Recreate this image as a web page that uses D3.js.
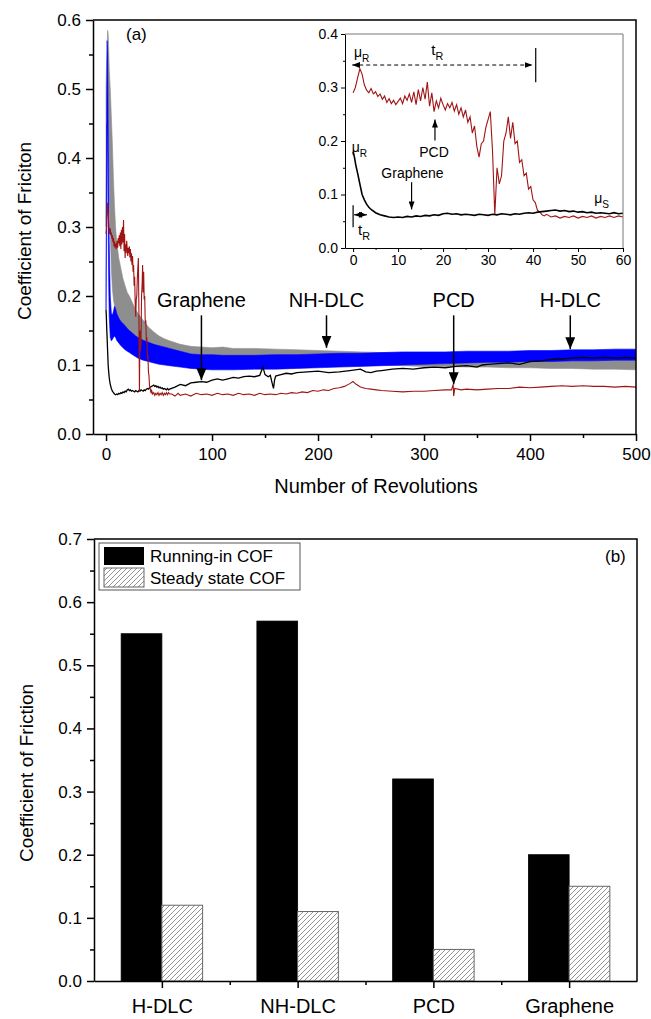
<!DOCTYPE html>
<html>
<head>
<meta charset="utf-8">
<script src="https://cdn.jsdelivr.net/npm/d3@7"></script>
<style>
body { margin: 0; background: #fff; }
text { font-family: "Liberation Sans", Arial, sans-serif; fill: #000; }
</style>
</head>
<body>
<svg id="fig" width="651" height="1019"></svg>
<script>
//----------------------------------- data, panel (a)
// PCD, 0-60 rev (also shown in the inset)
const pcdEarly = [
	[0, 0.290], [0.5, 0.300], [1, 0.318], [1.5, 0.335], [2, 0.325], [2.5, 0.305], [3, 0.295], [3.5, 0.290],
	[4, 0.298], [4.5, 0.288], [5, 0.292], [5.5, 0.283], [6, 0.288], [6.5, 0.278], [7, 0.284], [7.5, 0.272],
	[8, 0.279], [8.5, 0.270], [9, 0.276], [9.5, 0.268], [10, 0.274], [10.5, 0.280], [11, 0.270], [11.5, 0.284],
	[12, 0.276], [12.5, 0.288], [13, 0.272], [13.5, 0.292], [14, 0.268], [14.5, 0.296], [15, 0.275], [15.5, 0.300],
	[16, 0.278], [16.5, 0.310], [17, 0.265], [17.5, 0.290], [18, 0.255], [18.5, 0.275], [19, 0.262], [19.5, 0.280],
	[20, 0.268], [20.5, 0.258], [21, 0.270], [21.5, 0.262], [22, 0.272], [22.5, 0.256], [23, 0.268], [23.5, 0.250],
	[24, 0.262], [24.5, 0.245], [25, 0.258], [25.5, 0.235], [26, 0.245], [26.5, 0.215], [27, 0.228], [27.5, 0.190],
	[28, 0.170], [28.5, 0.195], [29, 0.200], [29.5, 0.225], [30, 0.240], [30.5, 0.255], [31, 0.180], [31.5, 0.062],
	[32, 0.150], [32.5, 0.120], [33, 0.135], [33.5, 0.200], [34, 0.215], [34.5, 0.245], [35, 0.205], [35.5, 0.235],
	[36, 0.195], [36.5, 0.200], [37, 0.160], [37.5, 0.165], [38, 0.135], [38.5, 0.140], [39, 0.110], [39.5, 0.115],
	[40, 0.090], [40.5, 0.085], [41, 0.070], [41.5, 0.068], [42, 0.062], [42.5, 0.060], [43, 0.063], [44, 0.058],
	[45, 0.060], [46, 0.056], [47, 0.059], [48, 0.057], [49, 0.060], [50, 0.056], [51, 0.059], [52, 0.057],
	[53, 0.060], [54, 0.056], [55, 0.059], [56, 0.057], [57, 0.060], [58, 0.057], [59, 0.060], [60, 0.058]
];
const pcdLate = [
	[62, 0.058], [65, 0.055], [68, 0.059], [70, 0.056], [75, 0.058], [80, 0.055], [85, 0.059], [90, 0.057],
	[95, 0.058], [100, 0.056], [105, 0.059], [110, 0.057], [115, 0.058], [120, 0.056], [125, 0.059], [130, 0.057],
	[135, 0.058], [140, 0.056], [145, 0.059], [150, 0.057], [155, 0.058], [160, 0.057], [165, 0.059], [170, 0.058],
	[175, 0.060], [180, 0.059], [185, 0.061], [190, 0.060], [195, 0.063], [200, 0.062], [205, 0.064], [210, 0.063],
	[215, 0.066], [220, 0.067], [225, 0.069], [230, 0.073], [233, 0.076], [236, 0.072], [240, 0.068], [245, 0.066],
	[250, 0.065], [255, 0.064], [260, 0.063], [270, 0.062], [280, 0.061], [290, 0.062], [300, 0.062], [310, 0.063],
	[320, 0.064], [326, 0.064], [327.5, 0.072], [328, 0.055], [329, 0.066], [335, 0.064], [340, 0.065], [350, 0.064],
	[360, 0.065], [370, 0.066], [380, 0.066], [390, 0.068], [400, 0.067], [410, 0.068], [420, 0.069], [430, 0.070],
	[440, 0.069], [450, 0.070], [460, 0.069], [470, 0.069], [480, 0.068], [490, 0.069], [500, 0.068]
];

// Graphene, 0-60 rev (also shown in the inset)
const grapheneEarly = [
	[0, 0.180], [0.3, 0.170], [0.6, 0.155], [1, 0.140], [1.5, 0.120], [2, 0.100], [2.5, 0.090], [3, 0.082],
	[3.5, 0.076], [4, 0.072], [5, 0.066], [6, 0.062], [7, 0.060], [8, 0.058], [9, 0.057], [10, 0.058],
	[11, 0.057], [12, 0.059], [13, 0.058], [14, 0.060], [15, 0.059], [16, 0.061], [17, 0.060], [18, 0.062],
	[19, 0.061], [20, 0.064], [21, 0.065], [22, 0.063], [23, 0.064], [24, 0.062], [25, 0.063], [26, 0.062],
	[27, 0.061], [28, 0.063], [29, 0.062], [30, 0.061], [31, 0.063], [32, 0.062], [33, 0.064], [34, 0.063],
	[35, 0.062], [36, 0.064], [37, 0.063], [38, 0.065], [39, 0.066], [40, 0.065], [41, 0.067], [42, 0.068],
	[43, 0.069], [44, 0.070], [45, 0.071], [46, 0.069], [47, 0.070], [48, 0.068], [49, 0.069], [50, 0.067],
	[51, 0.068], [52, 0.066], [53, 0.067], [54, 0.065], [55, 0.066], [56, 0.065], [57, 0.064], [58, 0.066],
	[59, 0.064], [60, 0.065]
];
const grapheneLate = [
	[65, 0.068], [70, 0.072], [75, 0.070], [80, 0.074], [85, 0.075], [90, 0.076], [95, 0.075], [100, 0.078],
	[105, 0.080], [110, 0.078], [115, 0.080], [120, 0.082], [125, 0.081], [130, 0.083], [135, 0.084], [140, 0.083],
	[145, 0.085], [148, 0.097], [150, 0.086], [153, 0.083], [155, 0.085], [157, 0.072], [158, 0.066], [159, 0.078],
	[160, 0.084], [165, 0.086], [170, 0.088], [175, 0.087], [180, 0.089], [190, 0.090], [200, 0.091], [210, 0.089],
	[220, 0.090], [230, 0.092], [240, 0.094], [245, 0.090], [250, 0.089], [255, 0.091], [260, 0.092], [270, 0.094],
	[280, 0.095], [290, 0.094], [300, 0.096], [310, 0.097], [320, 0.096], [330, 0.098], [340, 0.099], [350, 0.097],
	[355, 0.100], [360, 0.101], [370, 0.102], [380, 0.103], [390, 0.101], [400, 0.105], [410, 0.106], [420, 0.108],
	[430, 0.109], [440, 0.110], [450, 0.111], [460, 0.110], [470, 0.111], [480, 0.110], [490, 0.111], [500, 0.110]
];

// noisy bands of H-DLC (blue) and NH-DLC (grey), read as lower / upper envelopes
const bandRev = [0, 0.5, 1, 1.5, 2, 2.5, 3, 4, 5, 6, 7, 8, 9, 10, 12, 14, 16, 18, 20, 22, 25, 28, 30, 35, 40, 45, 50, 55, 60,
	70, 80, 90, 100, 110, 120, 140, 160, 180, 200, 220, 240, 260, 280, 300, 320, 340, 360, 380, 400, 420, 440, 460, 480, 500];
const nhdlcHi = [0.50, 0.54, 0.56, 0.585, 0.58, 0.56, 0.53, 0.50, 0.46, 0.42, 0.37, 0.33, 0.30, 0.28, 0.255, 0.24, 0.225, 0.215, 0.205, 0.20, 0.19, 0.18, 0.175, 0.165, 0.155, 0.148, 0.142, 0.138, 0.135,
	0.130, 0.127, 0.126, 0.125, 0.126, 0.124, 0.124, 0.123, 0.122, 0.121, 0.120, 0.119, 0.118, 0.118, 0.117, 0.116, 0.116, 0.115, 0.115, 0.114, 0.114, 0.113, 0.113, 0.112, 0.112];
const nhdlcLo = [0.30, 0.42, 0.48, 0.50, 0.47, 0.42, 0.36, 0.29, 0.24, 0.21, 0.195, 0.185, 0.178, 0.172, 0.165, 0.158, 0.152, 0.147, 0.143, 0.140, 0.136, 0.132, 0.130, 0.126, 0.122, 0.119, 0.116, 0.114, 0.112,
	0.110, 0.108, 0.107, 0.106, 0.106, 0.105, 0.104, 0.103, 0.103, 0.102, 0.101, 0.100, 0.100, 0.099, 0.098, 0.098, 0.097, 0.097, 0.096, 0.096, 0.095, 0.095, 0.094, 0.094, 0.093];
const hdlcHi = [0.22, 0.40, 0.57, 0.55, 0.46, 0.36, 0.28, 0.20, 0.175, 0.172, 0.178, 0.185, 0.182, 0.175, 0.168, 0.163, 0.160, 0.157, 0.153, 0.150, 0.146, 0.142, 0.140, 0.136, 0.133, 0.130, 0.128, 0.126, 0.124,
	0.120, 0.116, 0.115, 0.115, 0.114, 0.114, 0.114, 0.115, 0.115, 0.116, 0.117, 0.117, 0.118, 0.119, 0.119, 0.119, 0.120, 0.120, 0.120, 0.121, 0.121, 0.122, 0.122, 0.123, 0.123];
const hdlcLo = [0.18, 0.30, 0.45, 0.40, 0.30, 0.22, 0.17, 0.14, 0.135, 0.137, 0.140, 0.142, 0.140, 0.136, 0.132, 0.128, 0.125, 0.122, 0.120, 0.118, 0.115, 0.112, 0.110, 0.107, 0.105, 0.103, 0.101, 0.100, 0.099,
	0.097, 0.095, 0.094, 0.093, 0.093, 0.093, 0.094, 0.094, 0.095, 0.096, 0.097, 0.098, 0.099, 0.100, 0.101, 0.102, 0.103, 0.104, 0.104, 0.105, 0.105, 0.106, 0.106, 0.107, 0.107];

// arrow labels: name, rev, tip COF
const mainLabels = ["Graphene", "NH-DLC", "PCD", "H-DLC"];
const mainLabelRev = [90, 208, 328, 438];
const mainLabelTip = [0.078, 0.125, 0.072, 0.123];

const revTicks = [0, 100, 200, 300, 400, 500];
const revMinor = [50, 150, 250, 350, 450];
const cofTicksA = [0, 0.1, 0.2, 0.3, 0.4, 0.5, 0.6];
const cofMinorA = [0.05, 0.15, 0.25, 0.35, 0.45, 0.55];
const insetRevTicks = [0, 10, 20, 30, 40, 50, 60];
const insetRevMinor = [5, 15, 25, 35, 45, 55];
const insetCofTicks = [0, 0.1, 0.2, 0.3, 0.4];
const insetCofMinor = [0.05, 0.15, 0.25, 0.35];

//----------------------------------- data, panel (b)
const coatings = ["H-DLC", "NH-DLC", "PCD", "Graphene"];
const runningInCOF = [0.55, 0.57, 0.32, 0.20];
const steadyCOF = [0.12, 0.11, 0.05, 0.15];
const cofTicksB = [0, 0.1, 0.2, 0.3, 0.4, 0.5, 0.6, 0.7];
const cofMinorB = [0.05, 0.15, 0.25, 0.35, 0.45, 0.55, 0.65];

//----------------------------------- setup
const svg = d3.select("#fig");
const FONT = '"Liberation Sans", Arial, sans-serif';
const RED = "#a01414", BLUE = "#0000ff", GREY = "#8e8e8e";

svg.append("rect").attr("width", 651).attr("height", 1019).attr("fill", "#fff");

const defs = svg.append("defs");
defs.append("marker").attr("id", "headBig")
	.attr("markerUnits", "userSpaceOnUse").attr("markerWidth", 12).attr("markerHeight", 10)
	.attr("refX", 12).attr("refY", 5).attr("orient", "auto")
	.append("path").attr("d", "M0,0 L12,5 L0,10 Z").attr("fill", "#000");
defs.append("marker").attr("id", "headSmall")
	.attr("markerUnits", "userSpaceOnUse").attr("markerWidth", 8).attr("markerHeight", 6)
	.attr("refX", 8).attr("refY", 3).attr("orient", "auto-start-reverse")
	.append("path").attr("d", "M0,0 L8,3 L0,6 Z").attr("fill", "#000");
const hatch = defs.append("pattern").attr("id", "hatch")
	.attr("patternUnits", "userSpaceOnUse").attr("width", 5).attr("height", 5);
hatch.append("rect").attr("width", 5).attr("height", 5).attr("fill", "#fff");
hatch.append("path").attr("d", "M0,5 L5,0 M-1.25,1.25 L1.25,-1.25 M3.75,6.25 L6.25,3.75")
	.attr("stroke", "#666").attr("stroke-width", 0.7);

//-----------------------------------
function styleAxis(g, fs, sw) {
	g.select(".domain").attr("stroke", "#000").attr("stroke-width", sw);
	g.selectAll(".tick line").attr("stroke", "#000").attr("stroke-width", sw);
	g.selectAll(".tick text").attr("font-size", fs).attr("font-family", FONT).attr("fill", "#000");
	return g;
}

function addAxes(g, x, y, o) {
	const x0 = x.range()[0], x1 = x.range()[1], y0 = y.range()[0], y1 = y.range()[1];
	// minor ticks first
	g.append("g").attr("transform", "translate(0," + y0 + ")")
		.call(d3.axisBottom(x).tickValues(o.xMinor).tickSize(o.minor).tickFormat("").tickSizeOuter(0))
		.call(s => styleAxis(s, o.fs, o.sw)).select(".domain").remove();
	g.append("g").attr("transform", "translate(" + x0 + ",0)")
		.call(d3.axisLeft(y).tickValues(o.yMinor).tickSize(o.minor).tickFormat("").tickSizeOuter(0))
		.call(s => styleAxis(s, o.fs, o.sw)).select(".domain").remove();

	const xa = d3.axisBottom(x).tickValues(o.xTicks).tickSize(o.major).tickPadding(o.xPad).tickSizeOuter(0);
	if (o.xFormat) xa.tickFormat(o.xFormat);
	const gx = g.append("g").attr("transform", "translate(0," + y0 + ")").call(xa).call(s => styleAxis(s, o.fs, o.sw));
	if (o.xFs) gx.selectAll(".tick text").attr("font-size", o.xFs);

	g.append("g").attr("transform", "translate(" + x0 + ",0)")
		.call(d3.axisLeft(y).tickValues(o.yTicks).tickSize(o.major).tickPadding(o.yPad).tickSizeOuter(0).tickFormat(d3.format(".1f")))
		.call(s => styleAxis(s, o.fs, o.sw));

	// plain frame on top and right
	g.append("path")
		.attr("d", "M" + x0 + "," + y1 + " L" + x1 + "," + y1 + " L" + x1 + "," + y0)
		.attr("fill", "none").attr("stroke", o.frame).attr("stroke-width", o.frameW);
}

//----------------------------------- panel (a)
const xA = d3.scaleLinear().domain([-12.3, 500]).range([93, 636]);
const yA = d3.scaleLinear().domain([0, 0.6]).range([434, 20]);

defs.append("clipPath").attr("id", "clipA").append("rect")
	.attr("x", 93).attr("y", 20).attr("width", 636 - 93).attr("height", 434 - 20);

const gA = svg.append("g");
const plotA = gA.append("g").attr("clip-path", "url(#clipA)");

function band(lo, hi) {
	return d3.area().x((d, i) => xA(bandRev[i])).y0((d, i) => yA(lo[i])).y1((d, i) => yA(hi[i]))(bandRev);
}
plotA.append("path").attr("d", band(nhdlcLo, nhdlcHi)).attr("fill", GREY).attr("stroke", GREY).attr("stroke-width", 0.6);
plotA.append("path").attr("d", band(hdlcLo, hdlcHi)).attr("fill", BLUE).attr("stroke", BLUE).attr("stroke-width", 0.6);

const lineA = d3.line().x(d => xA(d[0])).y(d => yA(d[1]));
plotA.append("path").attr("d", lineA(grapheneEarly.concat(grapheneLate)))
	.attr("fill", "none").attr("stroke", "#000").attr("stroke-width", 1.3);
plotA.append("path").attr("d", lineA(pcdEarly.concat(pcdLate)))
	.attr("fill", "none").attr("stroke", RED).attr("stroke-width", 1.1);

addAxes(gA, xA, yA, {
	xTicks: revTicks, xMinor: revMinor, yTicks: cofTicksA, yMinor: cofMinorA,
	major: 7, minor: 4, fs: 17, sw: 1.5, xPad: 7, yPad: 5, frame: "#000", frameW: 1.5,
	xFormat: d3.format("d")
});

gA.append("text").attr("x", 126).attr("y", 40).attr("font-size", 17).text("(a)");
gA.append("text").attr("x", 376).attr("y", 493).attr("text-anchor", "middle").attr("font-size", 20)
	.text("Number of Revolutions");
gA.append("text").attr("transform", "translate(31,231) rotate(-90)").attr("text-anchor", "middle")
	.attr("font-size", 19).text("Coefficient of Friciton");

mainLabels.forEach((name, i) => {
	gA.append("text").attr("x", xA(mainLabelRev[i])).attr("y", yA(0.184))
		.attr("text-anchor", "middle").attr("font-size", 20).text(name);
	gA.append("line")
		.attr("x1", xA(mainLabelRev[i])).attr("x2", xA(mainLabelRev[i]))
		.attr("y1", yA(0.172)).attr("y2", yA(mainLabelTip[i]))
		.attr("stroke", "#000").attr("stroke-width", 1.5).attr("marker-end", "url(#headBig)");
});

//----------------------------------- inset
const xI = d3.scaleLinear().domain([-1.8, 60]).range([345, 623]);
const yI = d3.scaleLinear().domain([0, 0.4]).range([248, 34]);

const gI = svg.append("g");
gI.append("rect").attr("x", 345).attr("y", 34).attr("width", 623 - 345).attr("height", 248 - 34).attr("fill", "#fff");

defs.append("clipPath").attr("id", "clipI").append("rect")
	.attr("x", 345).attr("y", 34).attr("width", 623 - 345).attr("height", 248 - 34);
const plotI = gI.append("g").attr("clip-path", "url(#clipI)");
const lineI = d3.line().x(d => xI(d[0])).y(d => yI(d[1]));
plotI.append("path").attr("d", lineI(pcdEarly)).attr("fill", "none").attr("stroke", RED).attr("stroke-width", 1.1);
plotI.append("path").attr("d", lineI(grapheneEarly)).attr("fill", "none").attr("stroke", "#000").attr("stroke-width", 1.6);

addAxes(gI, xI, yI, {
	xTicks: insetRevTicks, xMinor: insetRevMinor, yTicks: insetCofTicks, yMinor: insetCofMinor,
	major: 4, minor: 2, fs: 14, sw: 1, xPad: 3, yPad: 3, frame: "#777", frameW: 1,
	xFormat: d3.format("d")
});

function subLabel(g, x, y, main, sub, fs) {
	const t = g.append("text").attr("x", x).attr("y", y).attr("font-size", fs);
	t.append("tspan").text(main);
	t.append("tspan").attr("font-size", fs * 0.72).attr("dy", fs * 0.35).text(sub);
	return t;
}

subLabel(gI, xI(0.2), yI(0.357), "\u03bc", "R", 14);
subLabel(gI, xI(17.4), yI(0.361), "t", "R", 15);
gI.append("line").attr("x1", xI(-0.2)).attr("x2", xI(39.9)).attr("y1", yI(0.342)).attr("y2", yI(0.342))
	.attr("stroke", "#000").attr("stroke-width", 1).attr("stroke-dasharray", "4,3")
	.attr("marker-start", "url(#headSmall)").attr("marker-end", "url(#headSmall)");
gI.append("line").attr("x1", xI(40.6)).attr("x2", xI(40.6)).attr("y1", yI(0.374)).attr("y2", yI(0.31))
	.attr("stroke", "#000").attr("stroke-width", 1.2);

gI.append("line").attr("x1", xI(18.2)).attr("x2", xI(18.2)).attr("y1", yI(0.201)).attr("y2", yI(0.24))
	.attr("stroke", "#000").attr("stroke-width", 1.2).attr("marker-end", "url(#headSmall)");
gI.append("text").attr("x", xI(18)).attr("y", yI(0.170)).attr("text-anchor", "middle").attr("font-size", 14).text("PCD");

gI.append("text").attr("x", xI(13.2)).attr("y", yI(0.131)).attr("text-anchor", "middle").attr("font-size", 14).text("Graphene");
gI.append("line").attr("x1", xI(13)).attr("x2", xI(13)).attr("y1", yI(0.123)).attr("y2", yI(0.072))
	.attr("stroke", "#000").attr("stroke-width", 1.2).attr("marker-end", "url(#headSmall)");

subLabel(gI, xI(-0.3), yI(0.179), "\u03bc", "R", 14);
subLabel(gI, xI(53.6), yI(0.084), "\u03bc", "S", 14);

gI.append("line").attr("x1", xI(0)).attr("x2", xI(0)).attr("y1", yI(0.08)).attr("y2", yI(0.039))
	.attr("stroke", "#000").attr("stroke-width", 1.2);
gI.append("line").attr("x1", xI(0.2)).attr("x2", xI(3.1)).attr("y1", yI(0.062)).attr("y2", yI(0.062))
	.attr("stroke", "#000").attr("stroke-width", 1)
	.attr("marker-start", "url(#headSmall)").attr("marker-end", "url(#headSmall)");
subLabel(gI, xI(1.1), yI(0.024), "t", "R", 15);

//----------------------------------- panel (b)
const xB = d3.scaleLinear().domain([0.5, 4.5]).range([94, 637]);
const yB = d3.scaleLinear().domain([0, 0.7]).range([981, 539]);
const barW = 0.3;

const gB = svg.append("g");
gB.selectAll(".runIn").data(runningInCOF).join("rect").attr("class", "runIn")
	.attr("x", (d, i) => xB(i + 1 - barW)).attr("width", (d, i) => xB(i + 1) - xB(i + 1 - barW))
	.attr("y", d => yB(d)).attr("height", d => yB(0) - yB(d))
	.attr("fill", "#000").attr("stroke", "#000").attr("stroke-width", 0.8);
gB.selectAll(".steady").data(steadyCOF).join("rect").attr("class", "steady")
	.attr("x", (d, i) => xB(i + 1)).attr("width", (d, i) => xB(i + 1 + barW) - xB(i + 1))
	.attr("y", d => yB(d)).attr("height", d => yB(0) - yB(d))
	.attr("fill", "url(#hatch)").attr("stroke", "#666").attr("stroke-width", 1);

addAxes(gB, xB, yB, {
	xTicks: [1, 2, 3, 4], xMinor: [1.5, 2.5, 3.5], yTicks: cofTicksB, yMinor: cofMinorB,
	major: 7, minor: 4, fs: 17, xFs: 20, sw: 1.5, xPad: 11, yPad: 5, frame: "#000", frameW: 1.5,
	xFormat: d => coatings[d - 1]
});

gB.append("text").attr("transform", "translate(33,773) rotate(-90)").attr("text-anchor", "middle")
	.attr("font-size", 19).text("Coefficient of Friction");
gB.append("text").attr("x", 605).attr("y", 562).attr("font-size", 17).text("(b)");

// legend
const leg = gB.append("g");
leg.append("rect").attr("x", 99).attr("y", 543).attr("width", 201).attr("height", 47)
	.attr("fill", "#fff").attr("stroke", "#555").attr("stroke-width", 1);
leg.append("rect").attr("x", 104).attr("y", 547).attr("width", 40).attr("height", 18).attr("fill", "#000");
leg.append("rect").attr("x", 104).attr("y", 568).attr("width", 40).attr("height", 19)
	.attr("fill", "url(#hatch)").attr("stroke", "#666").attr("stroke-width", 1);
leg.append("text").attr("x", 150).attr("y", 562).attr("font-size", 17).text("Running-in COF");
leg.append("text").attr("x", 150).attr("y", 584).attr("font-size", 17).text("Steady state COF");
</script>
</body>
</html>
